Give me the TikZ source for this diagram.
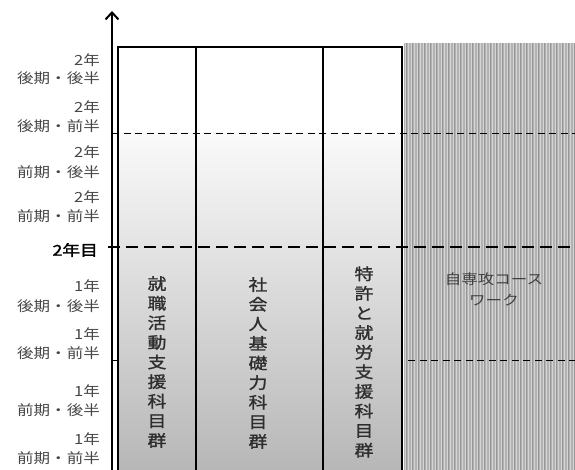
\documentclass[tikz,border=0pt]{standalone}
\usepackage{fontspec}
\setmainfont{Noto Sans CJK JP}
\newfontfamily\lab[FakeStretch=1.18]{Noto Sans CJK JP}
\newfontfamily\labm[FakeStretch=1.18,FakeBold=1.2]{Noto Sans CJK JP}
\newfontfamily\labb[FakeStretch=1.18,FakeBold=2]{Noto Sans CJK JP}
\usetikzlibrary{arrows.meta}
\definecolor{labgray}{RGB}{70,70,70}
\definecolor{hatchbase}{RGB}{178,178,178}
\definecolor{hatchlight}{RGB}{212,212,212}
\definecolor{hatchdark}{RGB}{150,150,150}
\definecolor{gradtop}{RGB}{250,250,250}
\definecolor{gradbot}{RGB}{182,182,182}
\tikzset{
  period/.style={anchor=east, inner sep=0pt, text=labgray, font=\lab\fontsize{14}{14}\selectfont},
  coltext/.style={align=center, inner sep=0pt, text=black!82, font=\labm\fontsize{16}{19.6}\selectfont},
  thindash/.style={line width=0.9pt, dash pattern=on 7pt off 4.5pt},
  thickdash/.style={line width=2.4pt, dash pattern=on 12pt off 6pt},
  frame/.style={line width=2pt, black}
}
\begin{document}
\begin{tikzpicture}[x=1pt,y=-1pt]
\useasboundingbox (0,0) rectangle (575,470);
% hatched area
\fill[hatchbase] (404,43) rectangle (575,470);
\foreach \i in {0,...,57} {
  \draw[hatchlight, line width=0.9pt] ({405+3*\i},43) -- ({405+3*\i},470);
}
\foreach \i in {0,...,28} {
  \draw[hatchdark, line width=0.7pt] ({406.5+6*\i},43) -- ({406.5+6*\i},470);
}
% box fill
\fill[white] (118,47) rectangle (402,133);
\shade[top color=gradtop, bottom color=gradbot] (118,133) rectangle (402,475);
% dashed lines
\coordinate (d1l) at (112,133); \coordinate (d1r) at (575,133);
\draw[thindash] (d1l) -- (d1r);
\coordinate (d3l) at (408,360); \coordinate (d3r) at (575,360);
\draw[thindash] (d3l) -- (d3r);
\coordinate (d4l) at (113,360); \coordinate (d4r) at (117,360);
\draw[line width=0.9pt] (d4l) -- (d4r);
% frame
\draw[frame] (118,476) -- (118,47) -- (402,47) -- (402,476);
\draw[frame] (196,47) -- (196,476);
\draw[frame] (323,47) -- (323,476);
\coordinate (d2l) at (108,247); \coordinate (d2r) at (575,247);
\draw[thickdash] (d2l) -- (d2r);
% axis
\coordinate (ax0) at (112,472); \coordinate (ax1) at (112,11);
\draw[line width=2pt, -{Straight Barb[length=7pt,width=13pt,line width=2pt]}] (ax0) -- (ax1);
% left labels
\node[period] (y2a) at (100,60) {2年};
\node[period] (p2a) at (100,78) {後期・後半};
\node[period] (y2b) at (100,107) {2年};
\node[period] (p2b) at (100,126) {後期・前半};
\node[period] (y2c) at (100,152) {2年};
\node[period] (p2c) at (100,172) {前期・後半};
\node[period] (y2d) at (100,197) {2年};
\node[period] (p2d) at (100,216) {前期・前半};
\node[period, text=black, font=\labb\fontsize{15}{15}\selectfont] (yr2) at (98,250) {2年目};
\node[period] (y1a) at (100,286) {1年};
\node[period] (p1a) at (100,306) {後期・後半};
\node[period] (y1b) at (100,334) {1年};
\node[period] (p1b) at (100,353) {後期・前半};
\node[period] (y1c) at (100,391) {1年};
\node[period] (p1c) at (100,410) {前期・後半};
\node[period] (y1d) at (100,439) {1年};
\node[period] (p1d) at (100,458) {前期・前半};
% column texts
\node[coltext] (c1) at (157,362) {就\\職\\活\\動\\支\\援\\科\\目\\群};
\node[coltext] (c2) at (258,363) {社\\会\\人\\基\\礎\\力\\科\\目\\群};
\node[coltext] (c3) at (364,362) {特\\許\\と\\就\\労\\支\\援\\科\\目\\群};
\node[align=center, inner sep=0pt, text=black!75, font=\lab\fontsize{14}{21}\selectfont] (c4) at (494,289) {自専攻コース\\ワーク};
\end{tikzpicture}
\end{document}
